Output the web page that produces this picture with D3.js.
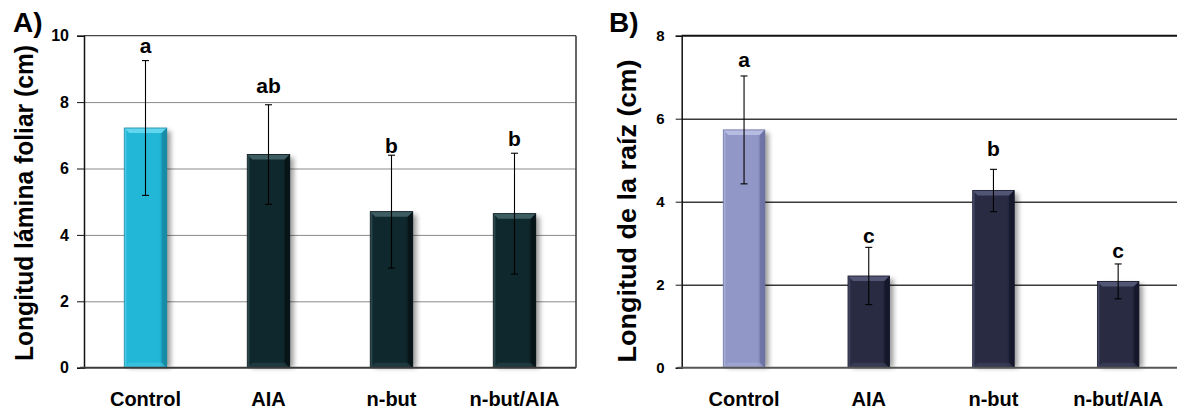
<!DOCTYPE html>
<html>
<head>
<meta charset="utf-8">
<script src="https://cdn.jsdelivr.net/npm/d3@7"></script>
<style>
  body { margin: 0; background: #fff; }
  svg { display: block; font-family: "Liberation Sans", Arial, sans-serif; font-weight: bold; }
</style>
</head>
<body>
<svg id="chart" width="1177" height="411"></svg>
<script>
// ---------- data ----------
const categories = ["Control", "AIA", "n-but", "n-but/AIA"];

const leafMean = [7.22, 6.42, 4.70, 4.64];
const leafSD = [2.03, 1.50, 1.70, 1.82];
const leafLetters = ["a", "ab", "b", "b"];
const leafLetterAt = [9.47, 8.28, 6.46, 6.68];
const leafTicks = [0, 2, 4, 6, 8, 10];

const rootMean = [5.73, 2.21, 4.27, 2.08];
const rootSD = [1.30, 0.69, 0.51, 0.42];
const rootLetters = ["a", "c", "b", "c"];
const rootLetterAt = [7.25, 3.01, 5.10, 2.64];
const rootTicks = [0, 2, 4, 6, 8];

// ---------- drawing ----------
const FONT = "'Liberation Sans', Arial, sans-serif";
const svg = d3.select("#chart");
const defs = svg.append("defs");
const blur = defs.append("filter").attr("id", "shadowBlur")
  .attr("x", "-50%").attr("y", "-20%").attr("width", "200%").attr("height", "140%");
blur.append("feGaussianBlur").attr("stdDeviation", 2.6);

function palette(id, base, light, dark) {
  const g = defs.append("linearGradient").attr("id", id)
    .attr("x1", "0").attr("x2", "1").attr("y1", "0").attr("y2", "0");
  g.append("stop").attr("offset", "0").attr("stop-color", light);
  g.append("stop").attr("offset", "0.07").attr("stop-color", base);
  g.append("stop").attr("offset", "0.82").attr("stop-color", base);
  g.append("stop").attr("offset", "1").attr("stop-color", dark);
  return { fill: `url(#${id})`, base, light, dark };
}

const colA0 = palette("gA0", "#22b6d7", "#62d6ef", "#168aa3");
const colA1 = palette("gA1", "#0f282d", "#3d5d63", "#071417");
const colB0 = palette("gB0", "#9197c7", "#b7bce2", "#6b71a3");
const colB1 = palette("gB1", "#282b42", "#525674", "#15172a");

function boldText(sel, size) {
  sel.style("font-size", size + "px").style("font-weight", "bold")
    .style("font-family", FONT).attr("fill", "#000");
}

function panel(cfg) {
  const x = d3.scaleBand().domain(categories).range([cfg.left, cfg.right])
    .paddingInner(cfg.pad).paddingOuter(cfg.pad / 2);
  const y = d3.scaleLinear().domain([0, d3.max(cfg.ticks)]).range([cfg.bottom, cfg.top]);
  const g = svg.append("g");

  // grid lines
  g.append("g").attr("transform", `translate(${cfg.left},0)`)
    .call(d3.axisLeft(y).tickValues(cfg.ticks.filter(t => t > 0 && t < d3.max(cfg.ticks)))
      .tickSize(-(cfg.right - cfg.left)).tickFormat(""))
    .call(a => a.select(".domain").remove())
    .call(a => a.selectAll("line").attr("stroke", cfg.gridColor).attr("stroke-width", cfg.gridWidth));

  // top border
  g.append("line").attr("x1", cfg.left).attr("x2", cfg.right)
    .attr("y1", y(d3.max(cfg.ticks))).attr("y2", y(d3.max(cfg.ticks)))
    .attr("stroke", cfg.topColor).attr("stroke-width", cfg.topWidth);
  if (cfg.rightBorder) {
    g.append("line").attr("x1", cfg.right).attr("x2", cfg.right)
      .attr("y1", y(d3.max(cfg.ticks))).attr("y2", y(0))
      .attr("stroke", "#333").attr("stroke-width", 1.5);
  }

  const bw = x.bandwidth();
  const b = 5;
  // bars
  cfg.mean.forEach((m, i) => {
    const col = i === 0 ? cfg.first : cfg.rest;
    const x0 = x(categories[i]);
    const y0 = y(m);
    const h = y(0) - y0;
    const bg = g.append("g");
    bg.append("rect").attr("x", x0 + 4).attr("y", y0 + 3).attr("width", bw).attr("height", h - 3)
      .attr("fill", "#000").attr("opacity", 0.38).attr("filter", "url(#shadowBlur)");
    bg.append("rect").attr("x", x0).attr("y", y0).attr("width", bw).attr("height", h)
      .attr("fill", col.fill);
    bg.append("polygon").attr("points",
      [[x0, y0], [x0 + bw, y0], [x0 + bw - b, y0 + b], [x0 + b, y0 + b]].map(p => p.join(",")).join(" "))
      .attr("fill", col.light);
    bg.append("polygon").attr("points",
      [[x0 + bw, y0], [x0 + bw, y0 + h], [x0 + bw - b, y0 + h - b], [x0 + bw - b, y0 + b]].map(p => p.join(",")).join(" "))
      .attr("fill", col.dark).attr("opacity", 0.8);
    bg.append("polygon").attr("points",
      [[x0, y0 + h], [x0 + bw, y0 + h], [x0 + bw - b, y0 + h - b], [x0 + b, y0 + h - b]].map(p => p.join(",")).join(" "))
      .attr("fill", col.light).attr("opacity", 0.35);
    bg.append("rect").attr("x", x0).attr("y", y0).attr("width", bw).attr("height", h)
      .attr("fill", "none").attr("stroke", col.dark).attr("stroke-width", 0.8);
  });

  // error bars
  cfg.mean.forEach((m, i) => {
    const cx = x(categories[i]) + bw / 2;
    const hi = y(m + cfg.sd[i]), lo = y(m - cfg.sd[i]);
    const e = g.append("g").attr("stroke", "#000").attr("stroke-width", 1.1);
    e.append("line").attr("x1", cx).attr("x2", cx).attr("y1", hi).attr("y2", lo);
    e.append("line").attr("x1", cx - 3.5).attr("x2", cx + 3.5).attr("y1", hi).attr("y2", hi);
    e.append("line").attr("x1", cx - 3.5).attr("x2", cx + 3.5).attr("y1", lo).attr("y2", lo);
  });

  // significance letters
  cfg.letters.forEach((t, i) => {
    g.append("text").attr("x", x(categories[i]) + bw / 2).attr("y", y(cfg.letterAt[i]))
      .attr("text-anchor", "middle").call(boldText, 21).text(t);
  });

  // left axis
  g.append("g").attr("transform", `translate(${cfg.left},0)`)
    .call(d3.axisLeft(y).tickValues(cfg.ticks).tickSize(cfg.tickSize).tickPadding(cfg.tickPad))
    .call(a => a.select(".domain").attr("stroke", "#111").attr("stroke-width", 1.5))
    .call(a => a.selectAll(".tick line").attr("stroke", "#111").attr("stroke-width", 1))
    .call(a => a.selectAll("text").call(boldText, cfg.tickFont));

  // bottom axis
  g.append("g").attr("transform", `translate(0,${cfg.bottom})`)
    .call(d3.axisBottom(x).tickSize(0).tickPadding(24))
    .call(a => a.select(".domain").attr("stroke", cfg.bottomColor).attr("stroke-width", 2)
      .attr("d", `M${cfg.left - 4},0H${cfg.right}`))
    .call(a => a.selectAll("text").call(boldText, 20));

  // y title
  svg.append("text")
    .attr("transform", `translate(${cfg.titleX},${cfg.titleY}) rotate(-90)`)
    .attr("text-anchor", "middle").attr("dominant-baseline", "central")
    .call(boldText, 25)
    .attr("textLength", cfg.titleLen).attr("lengthAdjust", "spacingAndGlyphs")
    .text(cfg.yTitle);

  // panel letter
  svg.append("text").attr("x", cfg.tagX).attr("y", cfg.tagY)
    .call(boldText, 28).text(cfg.tag);
}

panel({
  left: 84, right: 576, top: 35.7, bottom: 367.7, pad: 0.6545,
  mean: leafMean, sd: leafSD, letters: leafLetters, letterAt: leafLetterAt, ticks: leafTicks,
  first: colA0, rest: colA1,
  gridColor: "#8a8a8a", gridWidth: 1, topColor: "#444", topWidth: 1.2, rightBorder: true,
  bottomColor: "#3a3a3a",
  tickSize: 7, tickPad: 8, tickFont: 16,
  yTitle: "Longitud lámina foliar (cm)", titleX: 24, titleY: 203, titleLen: 316,
  tag: "A)", tagX: 13, tagY: 32
});

panel({
  left: 681.7, right: 1180.5, top: 35.7, bottom: 367.7, pad: 0.667,
  mean: rootMean, sd: rootSD, letters: rootLetters, letterAt: rootLetterAt, ticks: rootTicks,
  first: colB0, rest: colB1,
  gridColor: "#3a3a3a", gridWidth: 1.4, topColor: "#111", topWidth: 2, rightBorder: false,
  bottomColor: "#555",
  tickSize: 6, tickPad: 11, tickFont: 15,
  yTitle: "Longitud de la raíz (cm)", titleX: 627, titleY: 211, titleLen: 303,
  tag: "B)", tagX: 609, tagY: 32
});
</script>
</body>
</html>
